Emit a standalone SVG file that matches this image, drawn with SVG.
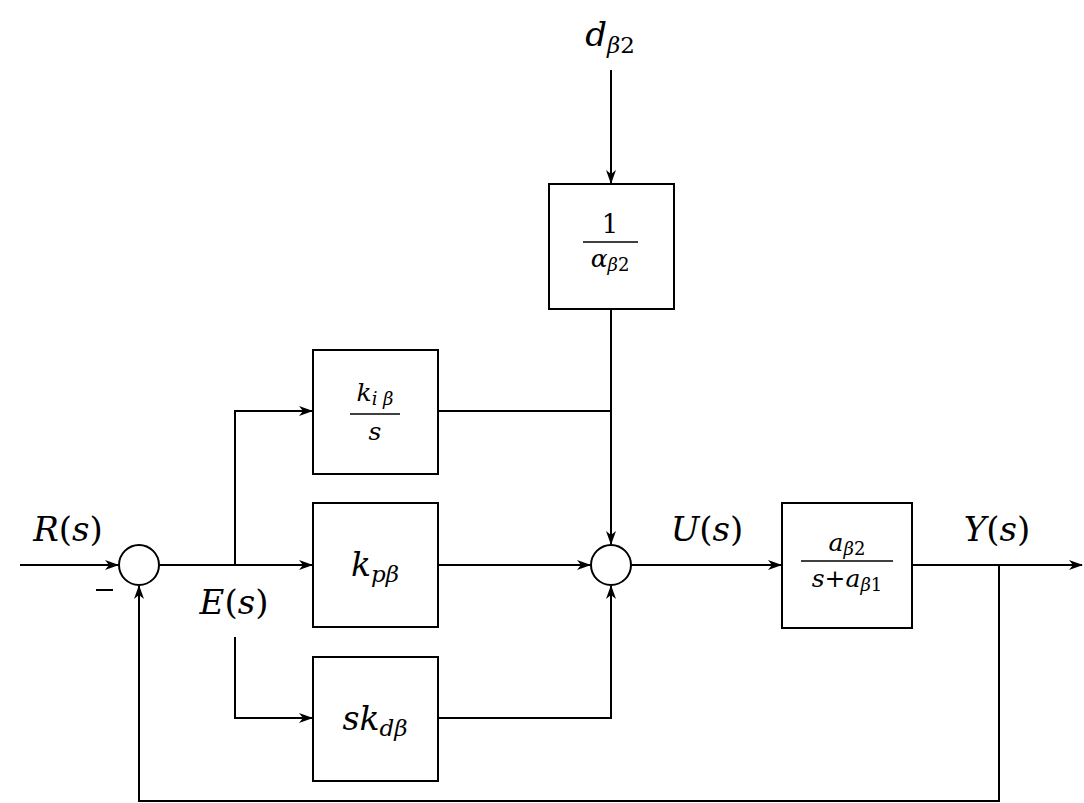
<svg xmlns="http://www.w3.org/2000/svg" width="1084" height="803" viewBox="0 0 1084 803">
<defs>
<style>
.box{fill:#fff;stroke:#000;stroke-width:2}
.ln{fill:none;stroke:#000;stroke-width:2}
text{font-family:'DejaVu Serif','Liberation Serif',serif;fill:#000}
.m{font-style:italic}
.r{font-style:normal}
</style>
<marker id="ah" viewBox="0 0 14 10" refX="13" refY="5" markerWidth="14" markerHeight="10" markerUnits="userSpaceOnUse" orient="auto">
<path d="M0,0 L14,5 L0,10 L4,5 Z" fill="#000"/>
</marker>
</defs>
<g id="connectors">
<line class="ln" x1="20" y1="565" x2="118" y2="565" marker-end="url(#ah)"/>
<line class="ln" x1="159" y1="565" x2="312" y2="565" marker-end="url(#ah)"/>
<polyline class="ln" points="235,565 235,411 312,411" marker-end="url(#ah)"/>
<polyline class="ln" points="235,637 235,718 312,718" marker-end="url(#ah)"/>
<line class="ln" x1="438" y1="565" x2="590" y2="565" marker-end="url(#ah)"/>
<line class="ln" x1="438" y1="411" x2="611" y2="411"/>
<line class="ln" x1="611" y1="309" x2="611" y2="544" marker-end="url(#ah)"/>
<polyline class="ln" points="438,718 611,718 611,586" marker-end="url(#ah)"/>
<line class="ln" x1="611" y1="70" x2="611" y2="183" marker-end="url(#ah)"/>
<line class="ln" x1="631" y1="565" x2="781" y2="565" marker-end="url(#ah)"/>
<line class="ln" x1="912" y1="565" x2="1082" y2="565" marker-end="url(#ah)"/>
<polyline class="ln" points="999,565 999,801 139,801 139,586" marker-end="url(#ah)"/>
</g>
<g id="sum1"><circle class="box" cx="139" cy="565" r="20"/><line x1="96" y1="590" x2="113" y2="590" stroke="#000" stroke-width="2"/></g>
<g id="sum2"><circle class="box" cx="611" cy="565" r="20"/></g>
<g id="gain-alpha">
<rect class="box" x="549" y="184" width="125" height="125"/>
<text class="r" x="610" y="233" font-size="26" text-anchor="middle">1</text>
<line x1="583" y1="242" x2="638" y2="242" stroke="#000" stroke-width="1.6"/>
<text x="610" y="267" text-anchor="middle"><tspan class="m" font-size="25">α</tspan><tspan class="m" font-size="18" dy="4">β</tspan><tspan class="r" font-size="18">2</tspan></text>
</g>
<g id="gain-ki">
<rect class="box" x="313" y="350" width="125" height="124"/>
<text x="375" y="401" text-anchor="middle"><tspan class="m" font-size="25">k</tspan><tspan class="m" font-size="18" dy="4">i β</tspan></text>
<line x1="350" y1="414" x2="400" y2="414" stroke="#000" stroke-width="1.6"/>
<text class="m" x="375" y="440" font-size="25" text-anchor="middle">s</text>
</g>
<g id="gain-kp">
<rect class="box" x="313" y="503" width="125" height="124"/>
<text x="375" y="576" text-anchor="middle"><tspan class="m" font-size="33">k</tspan><tspan class="m" font-size="23" dy="6">pβ</tspan></text>
</g>
<g id="gain-kd">
<rect class="box" x="313" y="657" width="125" height="124"/>
<text x="375" y="730" text-anchor="middle"><tspan class="m" font-size="33">sk</tspan><tspan class="m" font-size="23" dy="6">dβ</tspan></text>
</g>
<g id="plant">
<rect class="box" x="782" y="503" width="130" height="125"/>
<text x="847" y="551" text-anchor="middle"><tspan class="m" font-size="25">a</tspan><tspan class="m" font-size="18" dy="4">β</tspan><tspan class="r" font-size="18">2</tspan></text>
<line x1="801" y1="561" x2="893" y2="561" stroke="#000" stroke-width="1.6"/>
<text x="847" y="587" text-anchor="middle"><tspan class="m" font-size="25">s</tspan><tspan class="r" font-size="25">+</tspan><tspan class="m" font-size="25">a</tspan><tspan class="m" font-size="18" dy="4">β</tspan><tspan class="r" font-size="18">1</tspan></text>
</g>
<g id="labels">
<text x="610" y="46" text-anchor="middle"><tspan class="m" font-size="34">d</tspan><tspan class="m" font-size="23" dy="7">β</tspan><tspan class="r" font-size="23">2</tspan></text>
<text x="68" y="541" text-anchor="middle"><tspan class="m" font-size="34">R</tspan><tspan class="r" font-size="34">(</tspan><tspan class="m" font-size="34">s</tspan><tspan class="r" font-size="34">)</tspan></text>
<text x="234" y="614" text-anchor="middle"><tspan class="m" font-size="34">E</tspan><tspan class="r" font-size="34">(</tspan><tspan class="m" font-size="34">s</tspan><tspan class="r" font-size="34">)</tspan></text>
<text x="707" y="541" text-anchor="middle"><tspan class="m" font-size="34">U</tspan><tspan class="r" font-size="34">(</tspan><tspan class="m" font-size="34">s</tspan><tspan class="r" font-size="34">)</tspan></text>
<text x="997" y="541" text-anchor="middle"><tspan class="m" font-size="34">Y</tspan><tspan class="r" font-size="34">(</tspan><tspan class="m" font-size="34">s</tspan><tspan class="r" font-size="34">)</tspan></text>
</g>
</svg>
